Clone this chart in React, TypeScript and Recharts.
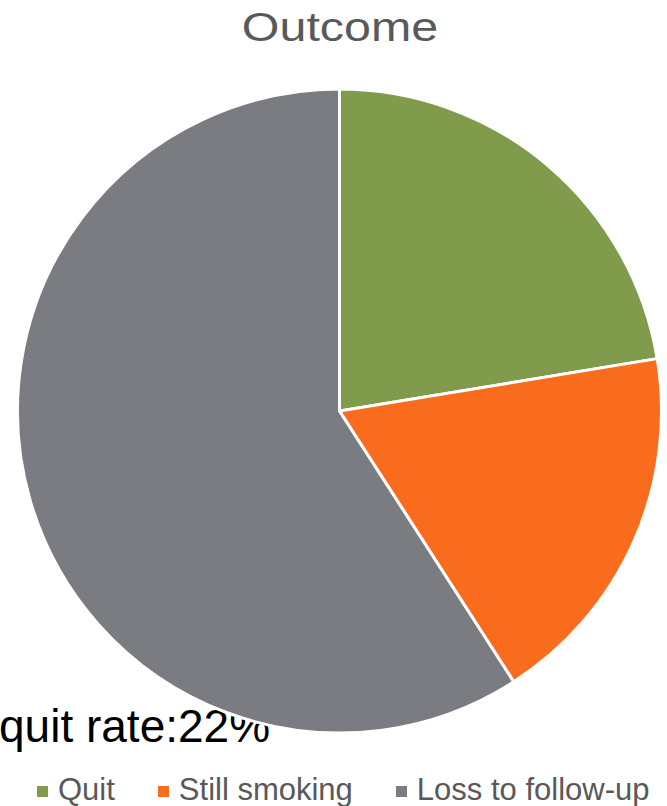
import React from "react";
import { PieChart, Pie, Cell, Legend } from "recharts";

const categories = ["Quit", "Still smoking", "Loss to follow-up"];
const shares = [22.4, 18.5, 59.1]; // percent of patients
const colors = ["#7F9B4B", "#F96C1E", "#7B7C81"];

const data = categories.map((name, i) => ({ name, value: shares[i] }));

const FONT = '"Liberation Sans", Arial, sans-serif';

function OutcomeLegend() {
  return (
    <div
      style={{
        display: "flex",
        alignItems: "center",
        paddingLeft: 37,
        fontFamily: FONT,
        fontSize: 31,
        lineHeight: "34px",
        color: "#595959",
        whiteSpace: "nowrap",
      }}
    >
      {categories.map((name, i) => (
        <div key={name} style={{ display: "flex", alignItems: "center", marginRight: 43 }}>
          <span
            style={{
              display: "inline-block",
              width: 11,
              height: 11,
              background: colors[i],
              marginRight: 10,
              marginTop: 2,
            }}
          />
          <span>{name}</span>
        </div>
      ))}
    </div>
  );
}

export default function App() {
  return (
    <div
      style={{
        position: "absolute",
        left: 0,
        top: 0,
        width: 667,
        height: 806,
        overflow: "hidden",
        background: "#fff",
      }}
    >
      <div
        style={{
          position: "absolute",
          left: 0,
          top: 7,
          width: 680,
          textAlign: "center",
          fontFamily: FONT,
          fontSize: 41,
          lineHeight: "41px",
          color: "#595959",
          transform: "scaleX(1.18)",
          transformOrigin: "340px 0",
        }}
      >
        Outcome
      </div>
      {/* sits underneath the pie, which overlaps its tail */}
      <div
        style={{
          position: "absolute",
          left: -1,
          top: 703,
          fontFamily: FONT,
          fontSize: 46,
          lineHeight: "46px",
          color: "#000",
          whiteSpace: "nowrap",
        }}
      >
        {`quit rate:${Math.round(shares[0])}%`}
      </div>
      <PieChart width={667} height={806} margin={{ top: 0, right: 0, bottom: 0, left: 0 }}>
        <Pie
          data={data}
          dataKey="value"
          nameKey="name"
          cx={339.5}
          cy={411}
          outerRadius={322}
          startAngle={90}
          endAngle={-270}
          stroke="#fff"
          strokeWidth={3}
          label={false}
          labelLine={false}
          isAnimationActive={false}
        >
          {data.map((d, i) => (
            <Cell key={d.name} fill={colors[i]} />
          ))}
        </Pie>
        <Legend
          content={() => <OutcomeLegend />}
          wrapperStyle={{ top: 773, left: 0, width: 667, bottom: "auto" }}
        />
      </PieChart>
    </div>
  );
}
